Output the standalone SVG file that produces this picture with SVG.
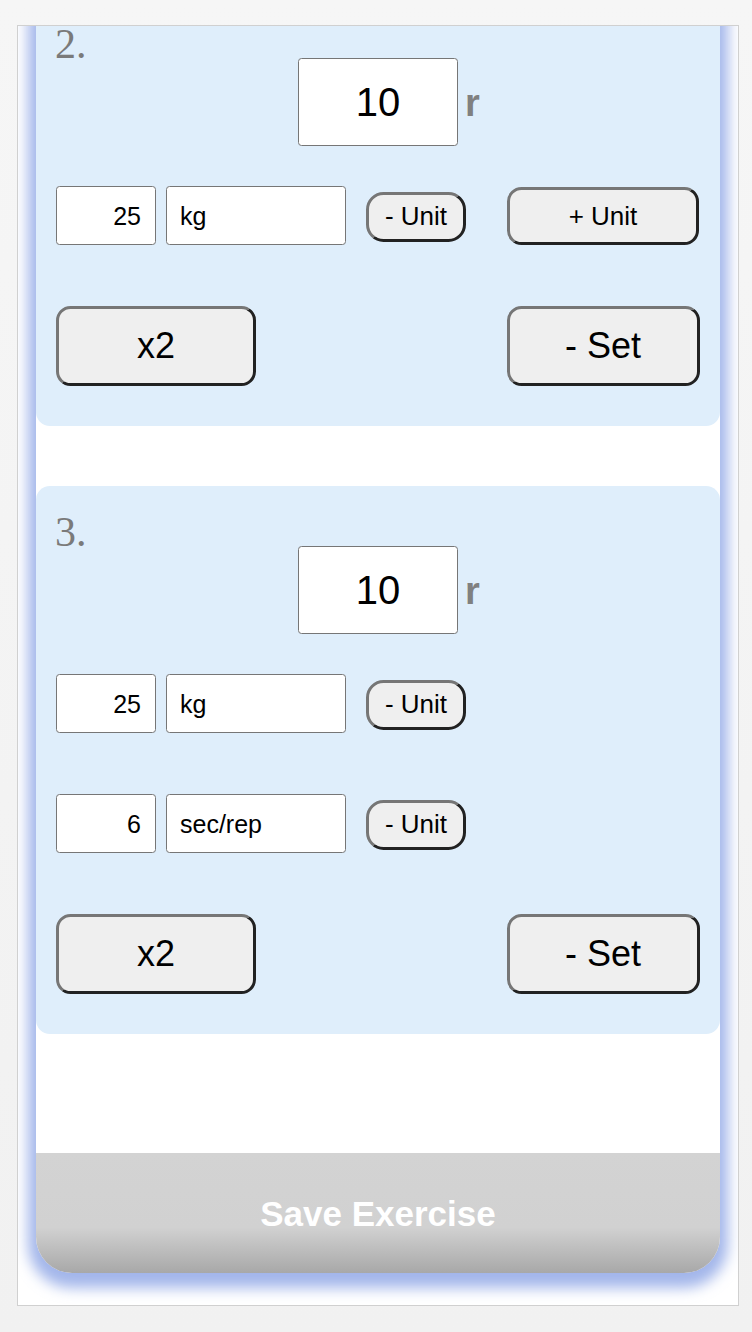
<svg xmlns="http://www.w3.org/2000/svg" width="752" height="1332" viewBox="0 0 752 1332">
<defs>
  <linearGradient id="bg" x1="0" y1="0" x2="0" y2="1">
    <stop offset="0" stop-color="#f6f6f6"/>
    <stop offset="1" stop-color="#f1f1f1"/>
  </linearGradient>
  <linearGradient id="bd" x1="0" y1="0" x2="1" y2="1">
    <stop offset="0.5" stop-color="#767676"/>
    <stop offset="0.5" stop-color="#222222"/>
  </linearGradient>
  <linearGradient id="save" gradientUnits="userSpaceOnUse" x1="0" y1="1153" x2="0" y2="1273">
    <stop offset="0" stop-color="#d3d3d3"/>
    <stop offset="0.62" stop-color="#d1d1d1"/>
    <stop offset="1" stop-color="#a8a8a8"/>
  </linearGradient>
  <filter id="glow" x="-10%" y="-10%" width="120%" height="120%">
    <feGaussianBlur stdDeviation="7"/>
  </filter>
  <clipPath id="page">
    <rect x="17.5" y="25.5" width="721" height="1280"/>
  </clipPath>
  <clipPath id="card">
    <path d="M36,-60 H720 V1237 A36,36 0 0 1 684,1273 H72 A36,36 0 0 1 36,1237 Z"/>
  </clipPath>
  <style>
    .panel { fill: #dfeefb; }
    .inp { fill: #ffffff; stroke: #767676; stroke-width: 1; }
    .btn { fill: #efefef; stroke: url(#bd); stroke-width: 3; }
    .num { font-family: "Liberation Serif", "Times New Roman", serif; font-size: 42px; fill: #7a7a7a; }
    .reps { font-family: "Liberation Sans", Arial, sans-serif; font-size: 40px; fill: #000; text-anchor: middle; }
    .r { font-family: "Liberation Sans", Arial, sans-serif; font-size: 38px; font-weight: bold; fill: #808080; }
    .val { font-family: "Liberation Sans", Arial, sans-serif; font-size: 25px; fill: #000; text-anchor: end; }
    .unit { font-family: "Liberation Sans", Arial, sans-serif; font-size: 25px; fill: #000; }
    .bt { font-family: "Liberation Sans", Arial, sans-serif; font-size: 26px; fill: #000; text-anchor: middle; }
    .bl { font-family: "Liberation Sans", Arial, sans-serif; font-size: 36px; fill: #000; text-anchor: middle; }
    .savet { font-family: "Liberation Sans", Arial, sans-serif; font-size: 35px; font-weight: bold; fill: #ffffff; text-anchor: middle; }
  </style>
</defs>

<rect x="0" y="0" width="752" height="1332" fill="url(#bg)"/>
<rect x="17.5" y="25.5" width="721" height="1280" fill="#ffffff"/>

<g clip-path="url(#page)">
  <g id="card-shadow">
    <path d="M28,-60 H728 V1240 A44,44 0 0 1 684,1284 H72 A44,44 0 0 1 28,1240 Z" fill="#a3b6ea" filter="url(#glow)" transform="translate(0,4)"/>
  </g>
  <g id="card">
    <path d="M36,-60 H720 V1237 A36,36 0 0 1 684,1273 H72 A36,36 0 0 1 36,1237 Z" fill="#ffffff"/>
  </g>

  <g id="set-2">
    <rect class="panel" x="36" y="-2" width="684" height="428" rx="14"/>
    <text class="num" x="55" y="58">2.</text>
    <g id="set2-reps">
      <rect class="inp" x="298.5" y="58.5" width="159" height="87" rx="3"/>
      <text class="reps" x="378" y="116">10</text>
    </g>
    <text class="r" x="465" y="116">r</text>
    <g id="set2-weight">
      <rect class="inp" x="56.5" y="186.5" width="99" height="58" rx="3"/>
      <text class="val" x="141" y="225">25</text>
      <rect class="inp" x="166.5" y="186.5" width="179" height="58" rx="3"/>
      <text class="unit" x="180" y="225">kg</text>
    </g>
    <g id="set2-minus-unit">
      <rect class="btn" x="367.5" y="193.5" width="97" height="47" rx="16"/>
      <text class="bt" x="416" y="225">- Unit</text>
    </g>
    <g id="set2-plus-unit">
      <rect class="btn" x="508.5" y="188.5" width="189" height="55" rx="13"/>
      <text class="bt" x="603" y="225">+ Unit</text>
    </g>
    <g id="set2-x2">
      <rect class="btn" x="57.5" y="307.5" width="197" height="77" rx="13"/>
      <text class="bl" x="156" y="358">x2</text>
    </g>
    <g id="set2-minus-set">
      <rect class="btn" x="508.5" y="307.5" width="190" height="77" rx="13"/>
      <text class="bl" x="603" y="358">- Set</text>
    </g>
  </g>

  <g id="set-3">
    <rect class="panel" x="36" y="486" width="684" height="548" rx="14"/>
    <text class="num" x="55" y="546">3.</text>
    <g id="set3-reps">
      <rect class="inp" x="298.5" y="546.5" width="159" height="87" rx="3"/>
      <text class="reps" x="378" y="604">10</text>
    </g>
    <text class="r" x="465" y="604">r</text>
    <g id="set3-weight">
      <rect class="inp" x="56.5" y="674.5" width="99" height="58" rx="3"/>
      <text class="val" x="141" y="713">25</text>
      <rect class="inp" x="166.5" y="674.5" width="179" height="58" rx="3"/>
      <text class="unit" x="180" y="713">kg</text>
    </g>
    <g id="set3-minus-unit-1">
      <rect class="btn" x="367.5" y="681.5" width="97" height="47" rx="16"/>
      <text class="bt" x="416" y="713">- Unit</text>
    </g>
    <g id="set3-time">
      <rect class="inp" x="56.5" y="794.5" width="99" height="58" rx="3"/>
      <text class="val" x="141" y="833">6</text>
      <rect class="inp" x="166.5" y="794.5" width="179" height="58" rx="3"/>
      <text class="unit" x="180" y="833">sec/rep</text>
    </g>
    <g id="set3-minus-unit-2">
      <rect class="btn" x="367.5" y="801.5" width="97" height="47" rx="16"/>
      <text class="bt" x="416" y="833">- Unit</text>
    </g>
    <g id="set3-x2">
      <rect class="btn" x="57.5" y="915.5" width="197" height="77" rx="13"/>
      <text class="bl" x="156" y="966">x2</text>
    </g>
    <g id="set3-minus-set">
      <rect class="btn" x="508.5" y="915.5" width="190" height="77" rx="13"/>
      <text class="bl" x="603" y="966">- Set</text>
    </g>
  </g>

  <g id="save-exercise">
    <rect x="36" y="1153" width="684" height="130" fill="url(#save)" clip-path="url(#card)"/>
    <text class="savet" x="378" y="1226">Save Exercise</text>
  </g>
  <g id="connectors"/>
</g>

<rect x="17.5" y="25.5" width="721" height="1280" fill="none" stroke="#d0d0d0" stroke-width="1"/>
</svg>
